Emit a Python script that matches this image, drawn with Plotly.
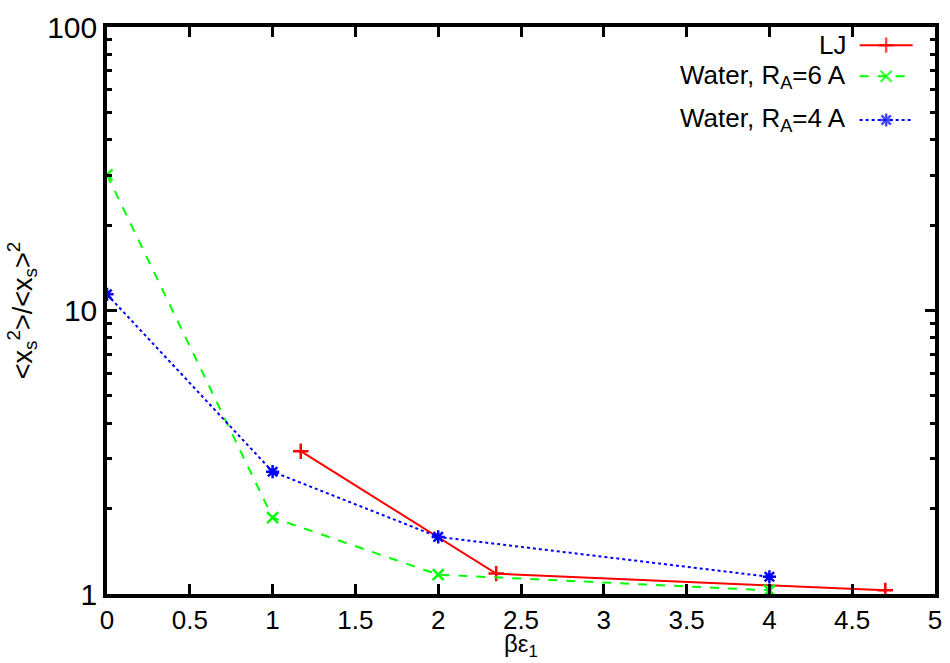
import plotly.graph_objects as go

# Data
lj_x = [1.17, 2.35, 4.70]
lj_y = [3.19, 1.18, 1.03]
w6_x = [0, 1, 2, 4]
w6_y = [30.1, 1.86, 1.17, 1.03]
w4_x = [0, 1, 2, 4]
w4_y = [11.4, 2.70, 1.59, 1.15]
names = ["LJ", "Water, R<sub>A</sub>=6 A", "Water, R<sub>A</sub>=4 A"]
colors = ["#ff0000", "#00ff00", "#0000ff"]
dashes = ["solid", "dash", "dot"]
symbols = ["cross-thin-open", "x-thin-open", "asterisk-open"]
x_ticks = [0, 0.5, 1, 1.5, 2, 2.5, 3, 3.5, 4, 4.5, 5]
x_ticktext = ["0", "0.5", "1", "1.5", "2", "2.5", "3", "3.5", "4", "4.5", "5"]
y_ticks = [1, 10, 100]
y_ticktext = ["1", "10", "100"]
y_minor = [2, 3, 4, 5, 6, 7, 8, 9, 20, 30, 40, 50, 60, 70, 80, 90]

FONT = "Liberation Sans, Arial, sans-serif"

fig = go.Figure()
series = [(lj_x, lj_y), (w6_x, w6_y), (w4_x, w4_y)]
for (xs, ys), c, d, s in zip(series, colors, dashes, symbols):
    fig.add_trace(go.Scatter(
        x=xs, y=ys, mode="lines+markers",
        line=dict(color=c, width=2, dash=d),
        marker=dict(symbol=s, size=11, color=c, line=dict(color=c, width=2.5)),
        showlegend=False))

# custom legend (text left of sample, gnuplot style)
leg_y = [0.968, 0.913, 0.836]
for name, c, d, s, ly in zip(names, colors, dashes, symbols, leg_y):
    fig.add_trace(go.Scatter(
        x=[0.909, 0.941, 0.973], y=[ly, ly, ly], xaxis="x2", yaxis="y2",
        mode="lines+markers", line=dict(color=c, width=2, dash=d),
        marker=dict(symbol=s, size=[0, 11, 0], color=c, line=dict(color=c, width=2.5)),
        showlegend=False, hoverinfo="skip"))
    fig.add_annotation(x=0.895, y=ly, xref="paper", yref="paper", text=name,
                       showarrow=False, xanchor="right", yanchor="middle",
                       font=dict(family=FONT, size=26, color="black"))

# x-axis title as annotation (below tick labels)
fig.add_annotation(x=0.5, y=-0.12, xref="paper", yref="paper", text="βε<sub>1</sub>",
                   showarrow=False, xanchor="center", yanchor="bottom", borderpad=0,
                   font=dict(family=FONT, size=24, color="black"))

fig.update_layout(
    width=950, height=663,
    margin=dict(l=107, r=15, t=27, b=69),
    paper_bgcolor="white", plot_bgcolor="white",
    font=dict(family=FONT, size=27, color="black"),
    xaxis=dict(range=[0, 5], tickvals=x_ticks, ticktext=x_ticktext, automargin=False,
               ticks="inside", ticklen=10, tickwidth=3, tickcolor="black",
               showline=True, linewidth=3.5, linecolor="black", mirror="ticks",
               showgrid=False, zeroline=False, tickfont=dict(size=26)),
    yaxis=dict(type="log", range=[0, 2], tickvals=y_ticks, ticktext=y_ticktext, automargin=False,
               ticks="inside", ticklen=10, tickwidth=3, tickcolor="black",
               showline=True, linewidth=3.5, linecolor="black", mirror="ticks",
               showgrid=False, zeroline=False, tickfont=dict(size=30),
               minor=dict(tickvals=y_minor,
                          ticks="inside", ticklen=5, tickwidth=3, tickcolor="black", showgrid=False),
               title=dict(text="&lt;x<sub>s</sub><sup>2</sup>&gt;/&lt;x<sub>s</sub>&gt;<sup>2</sup>",
                          standoff=8, font=dict(family=FONT, size=27))),
    xaxis2=dict(range=[0, 1], overlaying="x", visible=False, fixedrange=True),
    yaxis2=dict(range=[0, 1], overlaying="y", visible=False, fixedrange=True),
)

fig.write_html("out.html")
